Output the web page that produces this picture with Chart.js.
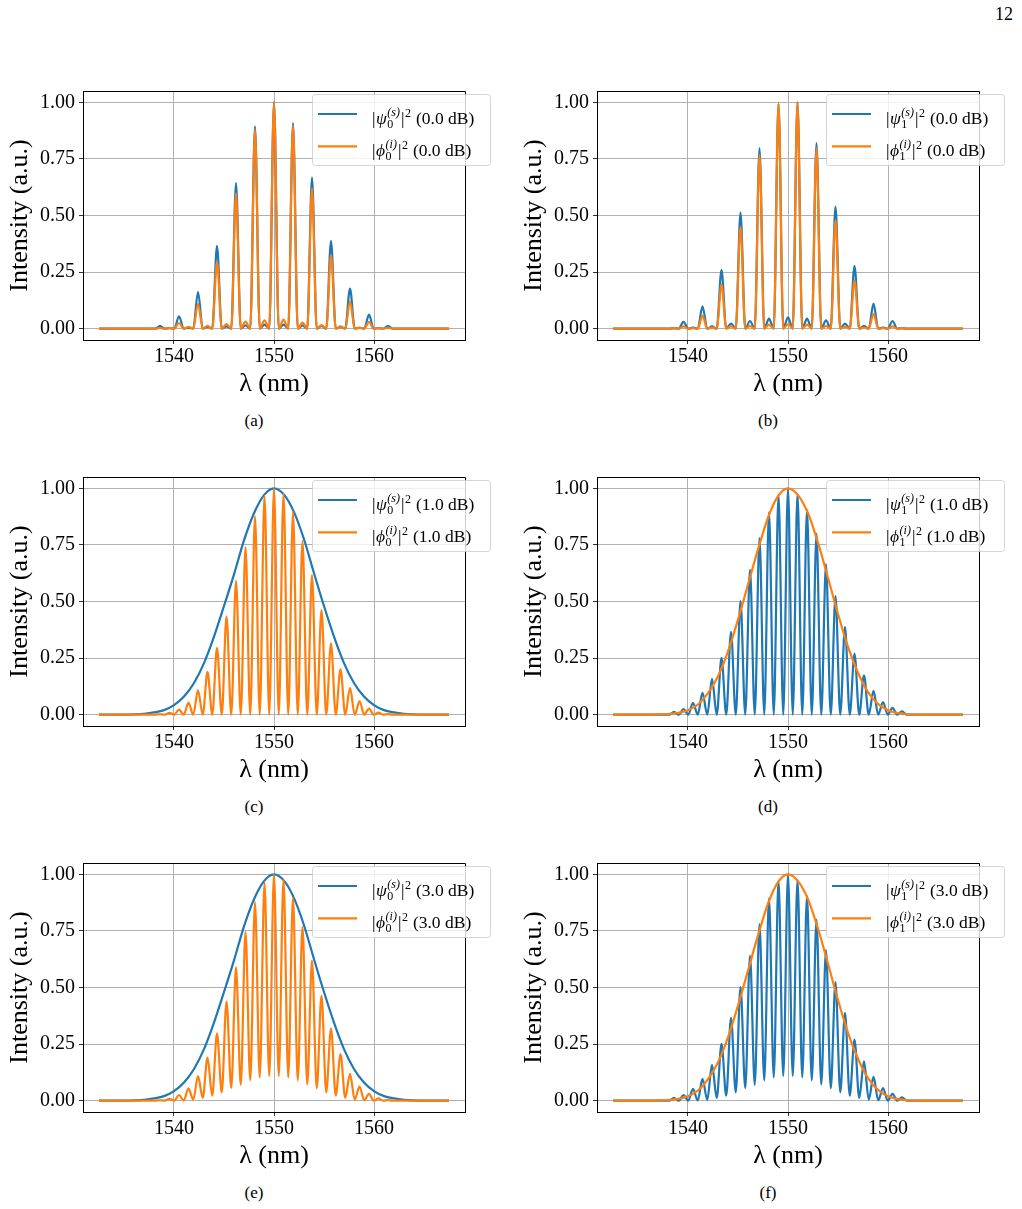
<!DOCTYPE html>
<html>
<head>
<meta charset="utf-8">
<script src="https://cdn.jsdelivr.net/npm/chart.js@4.4.0/dist/chart.umd.min.js"></script>
<style>
  body { margin: 0; background: #fff; width: 1022px; height: 1209px; position: relative; overflow: hidden;
         font-family: 'Liberation Serif', 'DejaVu Serif', serif; color: #000; }
  canvas { position: absolute; }
  .cap { position: absolute; font-size: 17px; line-height: 20px; width: 60px; margin-left: -30px; text-align: center; }
  .pagenum { position: absolute; left: 995px; top: 4px; font-size: 18px; line-height: 20px; }
</style>
</head>
<body>
<div class="pagenum">12</div>

<canvas id="pa" width="500" height="340" style="left:0px;top:66px"></canvas>
<canvas id="pb" width="508" height="340" style="left:514px;top:66px"></canvas>
<canvas id="pc" width="500" height="340" style="left:0px;top:452px"></canvas>
<canvas id="pd" width="508" height="340" style="left:514px;top:452px"></canvas>
<canvas id="pe" width="500" height="340" style="left:0px;top:838px"></canvas>
<canvas id="pf" width="508" height="340" style="left:514px;top:838px"></canvas>

<div class="cap" style="left:254px;top:411px">(a)</div>
<div class="cap" style="left:768px;top:411px">(b)</div>
<div class="cap" style="left:254px;top:797px">(c)</div>
<div class="cap" style="left:768px;top:797px">(d)</div>
<div class="cap" style="left:254px;top:1183px">(e)</div>
<div class="cap" style="left:768px;top:1183px">(f)</div>

<script>
// axis ticks
const lamTicks = [1540, 1550, 1560];
const intensityTicks = [0, 0.25, 0.5, 0.75, 1.0];

// wavelengths (nm) of the fringe maxima and of the minima between them
const fringeLam = [1538.6, 1539.55, 1540.5, 1541.45, 1542.4, 1543.35, 1544.3, 1545.25, 1546.2, 1547.15,
                   1548.1, 1549.05, 1550.0, 1550.95, 1551.9, 1552.85, 1553.8, 1554.75, 1555.7, 1556.65,
                   1557.6, 1558.55, 1559.5, 1560.45, 1561.4];
const troughLam = [1532.5, 1538.125, 1539.075, 1540.025, 1540.975, 1541.925, 1542.875, 1543.825, 1544.775, 1545.725,
                   1546.675, 1547.625, 1548.575, 1549.525, 1550.475, 1551.425, 1552.375, 1553.325, 1554.275, 1555.225,
                   1556.175, 1557.125, 1558.075, 1559.025, 1559.975, 1560.925, 1561.875, 1567.5];
const troughZero = [0, 0, 0, 0, 0, 0, 0, 0, 0, 0, 0, 0, 0, 0, 0, 0, 0, 0, 0, 0, 0, 0, 0, 0, 0, 0, 0, 0];

// (a) 0.0 dB, mode 0
const psiA = [0.012, 0.002, 0.055, 0.004, 0.162, 0.008, 0.366, 0.01, 0.643, 0.015, 0.894, 0.018, 1.0,
              0.018, 0.908, 0.015, 0.668, 0.012, 0.388, 0.008, 0.177, 0.004, 0.062, 0.002, 0.013];
const phiA = [0.003, 0.003, 0.025, 0.008, 0.11, 0.012, 0.295, 0.02, 0.598, 0.031, 0.879, 0.037, 1.0,
              0.04, 0.897, 0.027, 0.62, 0.016, 0.325, 0.01, 0.121, 0.005, 0.03, 0.002, 0.004];

// (b) 0.0 dB, mode 1
const psiB = [0.002, 0.03, 0.005, 0.099, 0.01, 0.26, 0.022, 0.513, 0.034, 0.798, 0.044, 0.994, 0.05,
              1.0, 0.044, 0.82, 0.037, 0.539, 0.022, 0.278, 0.012, 0.111, 0.005, 0.034, 0.002];
const phiB = [0.001, 0.01, 0.002, 0.058, 0.005, 0.196, 0.01, 0.45, 0.012, 0.768, 0.018, 0.994, 0.02,
              1.0, 0.018, 0.798, 0.012, 0.48, 0.008, 0.214, 0.005, 0.066, 0.002, 0.01, 0.001];

// smooth envelopes
const envLam = [1532.5, 1535, 1536, 1537, 1538, 1539, 1540, 1541, 1542, 1543, 1544, 1545, 1546, 1547, 1548, 1549,
                1550, 1551, 1552, 1553, 1554, 1555, 1556, 1557, 1558, 1559, 1560, 1561, 1562, 1563, 1564, 1565, 1567.5];
const envC = [0, 0, 0.001, 0.004, 0.01, 0.02, 0.042, 0.08, 0.14, 0.228, 0.345, 0.48, 0.62, 0.77, 0.89, 0.97,
              1.0, 0.972, 0.895, 0.775, 0.625, 0.48, 0.345, 0.228, 0.14, 0.08, 0.042, 0.02, 0.01, 0.004, 0.001, 0, 0];
const envD = [0, 0, 0, 0.001, 0.003, 0.008, 0.02, 0.045, 0.095, 0.17, 0.28, 0.42, 0.575, 0.73, 0.87, 0.965,
              1.0, 0.97, 0.89, 0.76, 0.605, 0.445, 0.3, 0.185, 0.1, 0.048, 0.02, 0.007, 0.002, 0, 0, 0, 0];

// fringes of (c)-(f)
const fringeC = [0.002, 0.008, 0.022, 0.053, 0.108, 0.189, 0.295, 0.433, 0.591, 0.74, 0.876, 0.967, 1.0,
                 0.976, 0.895, 0.768, 0.617, 0.462, 0.315, 0.2, 0.118, 0.06, 0.027, 0.009, 0.003];
const fringeD = [0.012, 0.025, 0.052, 0.096, 0.158, 0.251, 0.366, 0.502, 0.64, 0.78, 0.894, 0.972, 1.0,
                 0.976, 0.905, 0.8, 0.665, 0.524, 0.388, 0.27, 0.174, 0.105, 0.056, 0.03, 0.015];
const fringeE = [0.002, 0.008, 0.025, 0.055, 0.109, 0.19, 0.298, 0.439, 0.589, 0.746, 0.877, 0.963, 1.0,
                 0.978, 0.897, 0.768, 0.619, 0.464, 0.32, 0.205, 0.118, 0.062, 0.03, 0.01, 0.003];
const troughE = [0, 0, 0, 0, 0.001, 0.004, 0.012, 0.022, 0.037, 0.056, 0.07, 0.09, 0.103, 0.109,
                 0.109, 0.103, 0.09, 0.072, 0.055, 0.037, 0.022, 0.012, 0.005, 0.002, 0, 0, 0, 0];
const fringeF = [0.012, 0.025, 0.052, 0.096, 0.158, 0.251, 0.366, 0.502, 0.64, 0.78, 0.894, 0.972, 1.0,
                 0.976, 0.905, 0.8, 0.665, 0.524, 0.388, 0.27, 0.174, 0.105, 0.056, 0.03, 0.015];
const troughF = [0, 0, 0, 0, 0.001, 0.004, 0.012, 0.022, 0.037, 0.056, 0.07, 0.09, 0.103, 0.109,
                 0.109, 0.103, 0.09, 0.072, 0.055, 0.037, 0.022, 0.012, 0.005, 0.002, 0, 0, 0, 0];

const BLUE = '#1f77b4', ORANGE = '#ff7f0e';
const serif = "'Liberation Serif', 'DejaVu Serif', serif";

function pts(xs, ys) {
  return xs.map((x, i) => ({ x: x, y: ys[i] }));
}
function fringe(peaks, troughs) {
  return pts(fringeLam, peaks).concat(pts(troughLam, troughs)).sort((p, q) => p.x - q.x);
}

const panels = [
  { id: 'pa', mode: '0', db: '0.0 dB', blue: fringe(psiA, troughZero), orange: fringe(phiA, troughZero) },
  { id: 'pb', mode: '1', db: '0.0 dB', blue: fringe(psiB, troughZero), orange: fringe(phiB, troughZero) },
  { id: 'pc', mode: '0', db: '1.0 dB', blue: pts(envLam, envC), orange: fringe(fringeC, troughZero) },
  { id: 'pd', mode: '1', db: '1.0 dB', blue: fringe(fringeD, troughZero), orange: pts(envLam, envD) },
  { id: 'pe', mode: '0', db: '3.0 dB', blue: pts(envLam, envC), orange: fringe(fringeE, troughE) },
  { id: 'pf', mode: '1', db: '3.0 dB', blue: fringe(fringeF, troughF), orange: pts(envLam, envD) }
];

// |sym_sub^sup|^2 (x dB) drawn piece by piece
function drawMathLabel(ctx, m, x, base) {
  const big = '17.5px ' + serif, small = '12px ' + serif;
  ctx.fillStyle = '#000';
  ctx.textAlign = 'left';
  ctx.textBaseline = 'alphabetic';
  ctx.font = big;
  ctx.fillText('|', x, base);
  x += ctx.measureText('|').width + 0.5;
  ctx.font = 'italic ' + big;
  ctx.fillText(m.sym, x, base);
  x += ctx.measureText(m.sym).width + 0.5;
  ctx.font = 'italic ' + small;
  const wSup = ctx.measureText(m.sup).width;
  ctx.fillText(m.sup, x, base - 8);
  ctx.font = small;
  const wSub = ctx.measureText(m.sub).width;
  ctx.fillText(m.sub, x, base + 3.5);
  x += Math.max(wSup, wSub) + 1;
  ctx.font = big;
  ctx.fillText('|', x, base);
  x += ctx.measureText('|').width + 0.5;
  ctx.font = small;
  ctx.fillText('2', x, base - 7);
  x += ctx.measureText('2').width + 5;
  ctx.font = big;
  ctx.fillText('(' + m.db + ')', x, base);
}

const frameAndLegend = {
  id: 'frameAndLegend',
  afterDatasetsDraw(chart) {
    const { ctx, chartArea: a } = chart;
    ctx.save();
    // top and right spines
    ctx.strokeStyle = '#000';
    ctx.lineWidth = 1;
    ctx.beginPath();
    ctx.moveTo(Math.round(a.left - 0.5) + 0.5, Math.round(a.top - 0.5) + 0.5);
    ctx.lineTo(Math.round(a.right - 0.5) + 0.5, Math.round(a.top - 0.5) + 0.5);
    ctx.lineTo(Math.round(a.right - 0.5) + 0.5, Math.round(a.bottom - 0.5) + 0.5);
    ctx.stroke();

    // legend box, partly outside the axes like the original
    const bx = Math.round(a.right) - 153, by = Math.round(a.top) + 3, bw = 178, bh = 71;
    ctx.beginPath();
    ctx.roundRect(bx + 0.5, by + 0.5, bw, bh, 3);
    ctx.fillStyle = 'rgba(255,255,255,0.8)';
    ctx.fill();
    ctx.strokeStyle = 'rgba(204,204,204,0.8)';
    ctx.stroke();

    chart.data.datasets.forEach((ds, i) => {
      const y = by + 20 + i * 32.4;
      ctx.strokeStyle = ds.borderColor;
      ctx.lineWidth = 2.2;
      ctx.beginPath();
      ctx.moveTo(bx + 6, y);
      ctx.lineTo(bx + 45, y);
      ctx.stroke();
      drawMathLabel(ctx, ds.math, bx + 60, y + 10);
    });
    ctx.restore();
  }
};

const gridOpts = { color: '#b0b0b0', lineWidth: 1, drawTicks: true, tickLength: 4, tickColor: '#333' };
const borderOpts = { display: true, color: '#000', width: 1 };

panels.forEach(p => {
  const canvas = document.getElementById(p.id);
  new Chart(canvas, {
    type: 'line',
    data: {
      datasets: [
        {
          label: '|ψ' + p.mode + '(s)|2 (' + p.db + ')',
          math: { sym: 'ψ', sub: p.mode, sup: '(s)', db: p.db },
          data: p.blue,
          borderColor: BLUE,
          order: 2
        },
        {
          label: '|ϕ' + p.mode + '(i)|2 (' + p.db + ')',
          math: { sym: 'ϕ', sub: p.mode, sup: '(i)', db: p.db },
          data: p.orange,
          borderColor: ORANGE,
          order: 1
        }
      ]
    },
    options: {
      responsive: false,
      animation: false,
      devicePixelRatio: 1,
      layout: { padding: { top: 25, right: canvas.width - 465, left: 0, bottom: 0 } },
      elements: {
        point: { radius: 0 },
        line: { borderWidth: 2.2, cubicInterpolationMode: 'monotone', fill: false }
      },
      plugins: { legend: { display: false }, tooltip: { enabled: false } },
      scales: {
        x: {
          type: 'linear',
          min: 1530.9,
          max: 1569.1,
          afterBuildTicks: s => { s.ticks = lamTicks.map(v => ({ value: v })); },
          afterFit: s => { s.height = 66; },
          ticks: {
            font: { family: serif, size: 20 }, color: '#000', padding: 1,
            maxRotation: 0, autoSkip: false, callback: v => String(v)
          },
          grid: gridOpts,
          border: borderOpts,
          title: {
            display: true, text: 'λ (nm)', color: '#000',
            font: { family: serif, size: 26 }, padding: { top: 0, bottom: 6 }
          }
        },
        y: {
          min: -0.05,
          max: 1.05,
          afterBuildTicks: s => { s.ticks = intensityTicks.map(v => ({ value: v })); },
          afterFit: s => { s.width = 83; },
          ticks: {
            font: { family: serif, size: 20 }, color: '#000', padding: 4,
            callback: v => v.toFixed(2)
          },
          grid: gridOpts,
          border: borderOpts,
          title: {
            display: true, text: 'Intensity (a.u.)', color: '#000',
            font: { family: serif, size: 26 }, padding: { top: 5, bottom: 0 }
          }
        }
      }
    },
    plugins: [frameAndLegend]
  });
});
</script>
</body>
</html>
